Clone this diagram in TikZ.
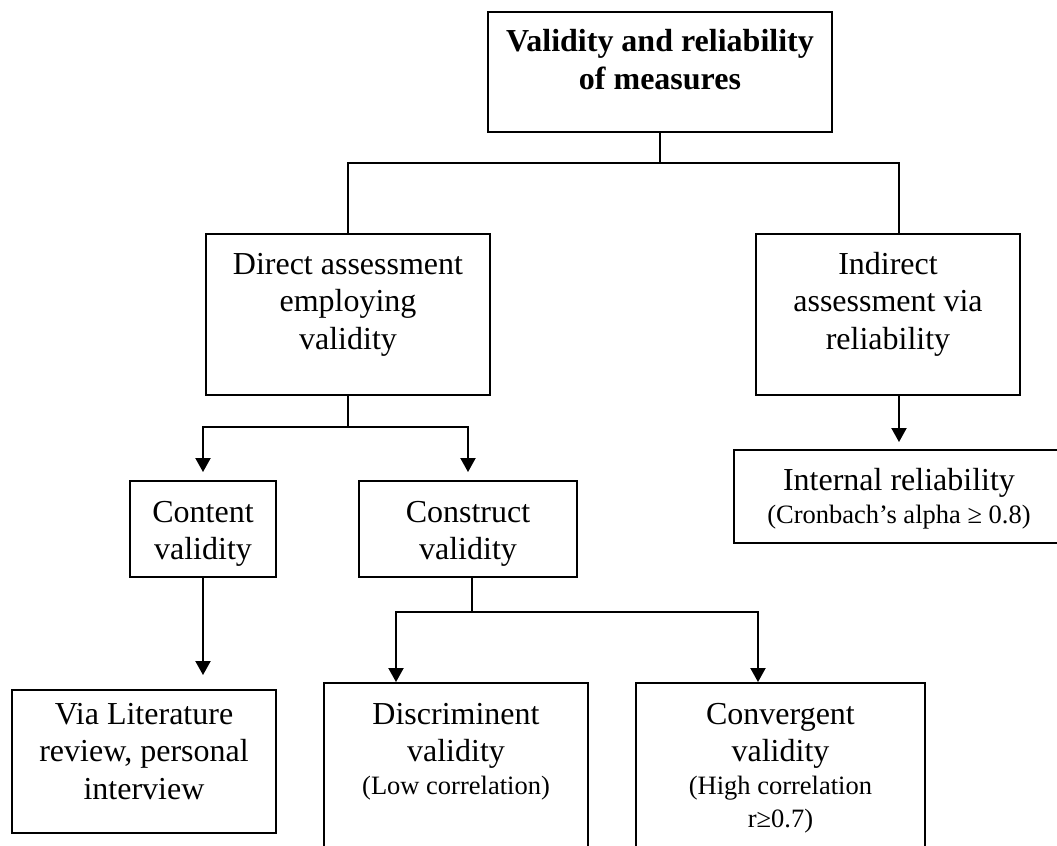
\documentclass[tikz,border=0pt]{standalone}
\usepackage{fontspec}
\setmainfont{Liberation Serif}
\usepackage{tikz}
\usetikzlibrary{arrows.meta}
\tikzset{>={Triangle[width=7.5pt,length=7pt]}}
\newcommand{\bigtxt}{\fontsize{16}{18.75}\selectfont}
\newcommand{\smalltxt}{\fontsize{13.25}{16.5}\selectfont}
\tikzset{box/.style n args={3}{draw, text width=#1, text height=#2, text depth=#3, align=flush center, inner sep=0pt, font=\bigtxt}}

\begin{document}
\begin{tikzpicture}[x=0.5pt,y=-0.5pt,line width=0.95pt]
    \useasboundingbox (0,0) rectangle (1057,846);
    \clip (0,0) rectangle (1057,846);
    \node[box={172pt}{20pt}{40pt}] (A) at (660,72) {\bfseries Validity and reliability\\of measures};
    \node[box={142pt}{20pt}{60.5pt}] (B) at (348,314.5) {Direct assessment\\employing\\validity};
    \node[box={132pt}{20pt}{60.5pt}] (C) at (888,314.5) {Indirect\\assessment via\\reliability};
    \node[box={165pt}{20pt}{26.5pt}] (D) at (899,496.5) {Internal reliability\par\smalltxt (Cronbach’s alpha ≥ 0.8)\par};
    \node[box={73pt}{20.5pt}{27.5pt}] (E) at (203,529) {Content\\validity};
    \node[box={109pt}{20.5pt}{27.5pt}] (F) at (468,529) {Construct\\validity};
    \node[box={132pt}{17pt}{54.5pt}] (G) at (144,761.5) {Via Literature\\review, personal\\interview};
    \node[box={132pt}{20.5pt}{73pt}] (H) at (456,776.5) {Discriminent\\validity\par\smalltxt (Low correlation)\par};
    \node[box={144.5pt}{20.5pt}{73pt}] (I) at (780.5,776.5) {Convergent\\validity\par\smalltxt (High correlation\\r≥0.7)\par};
    \draw (A.south) -- ++(0,30) -| (B.north);
    \draw (A.south) -- ++(0,30) -| (C.north -| D.north);
    \draw[->, shorten >=3.5pt] (C.south -| D.north) -- (D.north);
    \draw[->, shorten >=4pt] (B.south) -- ++(0,31) -| (E.north);
    \draw[->, shorten >=4pt] (B.south) -- ++(0,31) -| (F.north);
    \draw[->, shorten >=7pt] (E.south) -- (E.south |- G.north);
    \draw[->] ([xshift=2pt]F.south) -- ++(0,34) -| ([xshift=-30pt]H.north);
    \draw[->] ([xshift=2pt]F.south) -- ++(0,34) -| ([xshift=-11.25pt]I.north);
\end{tikzpicture}
\end{document}
